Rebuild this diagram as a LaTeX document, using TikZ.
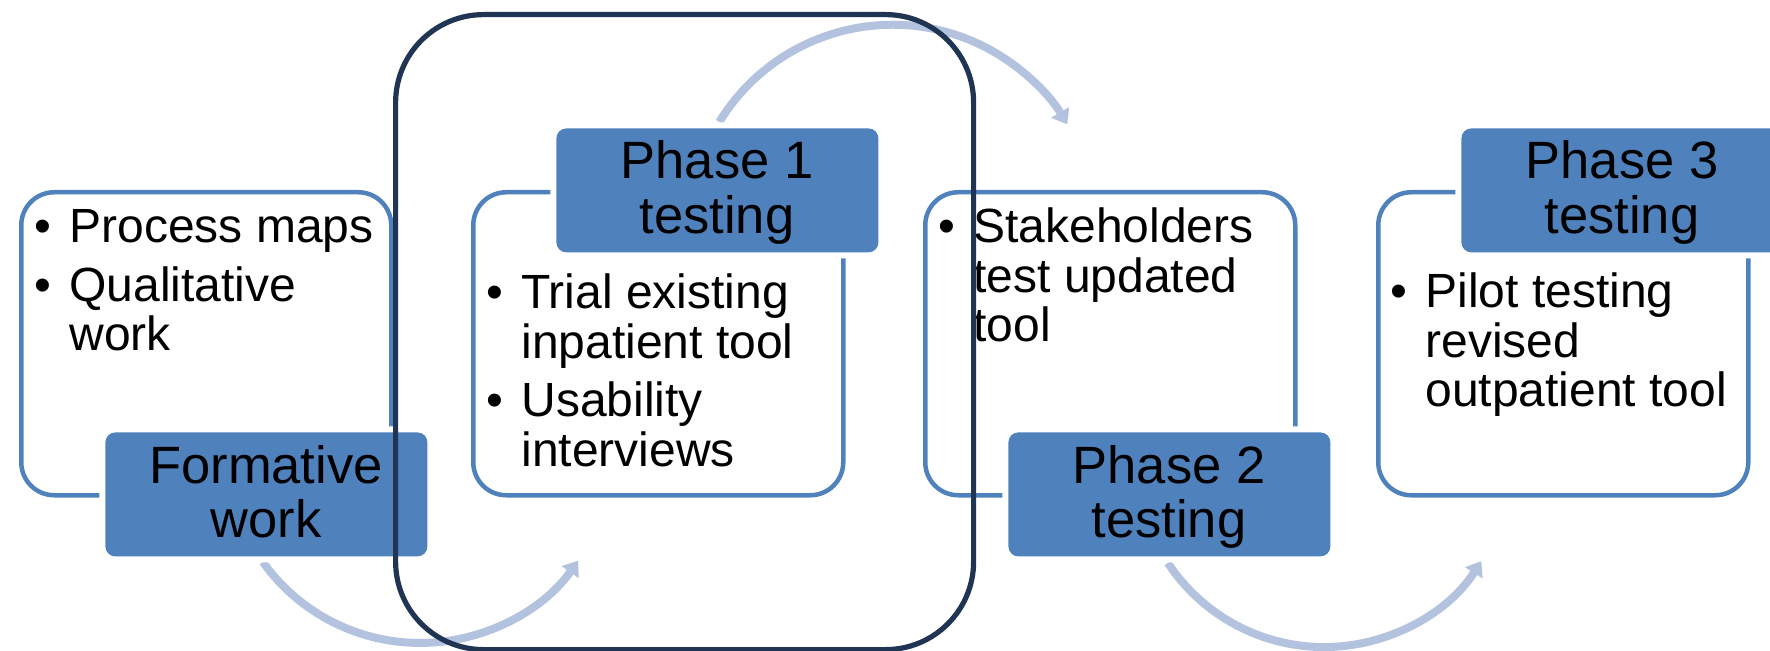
\documentclass[tikz,border=0pt]{standalone}
\usepackage{fontspec}
\setmainfont{Liberation Sans}
\usetikzlibrary{arrows.meta}
\definecolor{accent}{HTML}{4F81BD}
\definecolor{arrowc}{HTML}{B3C2DE}
\definecolor{framec}{HTML}{1F3553}
\newcommand\bodyfont{\fontsize{24}{24.5}\selectfont}
\newcommand\headfont{\fontsize{26.25}{27}\selectfont}
\begin{document}
\begin{tikzpicture}[x=0.5pt,y=-0.5pt,
  contentbox/.style={draw=accent, line width=2.25pt, fill=white, rounded corners=16.5pt,
    minimum width=185pt, minimum height=151.5pt, anchor=north west, inner sep=0pt},
  headbox/.style={fill=accent, preaction={draw=white, line width=6pt}, rounded corners=5pt,
    minimum width=161pt, minimum height=62pt, anchor=north west, inner sep=0pt},
  bodytext/.style={anchor=base west, inner sep=0pt, font=\bodyfont},
  headtext/.style={anchor=base, inner sep=0pt, font=\headfont},
  flow/.style={draw=arrowc, line width=4pt, -{Triangle[width=10pt,length=7pt]}},
  outline/.style={draw=framec, line width=2.6pt, rounded corners=44pt,
    minimum width=289pt, minimum height=317.5pt, anchor=north west, inner sep=0pt}]
\clip (0,0) rectangle (1770,651);
% curved arrows (behind)
\coordinate (a1s) at (262.9,562);
\coordinate (a2s) at (719.3,122);
\coordinate (a3s) at (1167.9,563);
\draw[flow] (a1s) arc[start angle=144.5, end angle=35, radius=193];
\draw[flow] (a2s) arc[start angle=211.4, end angle=329.4, radius=203];
\draw[flow] (a3s) arc[start angle=146.6, end angle=32.7, radius=187];
% content boxes
\node[contentbox] (b1) at (19,190) {};
\node[contentbox] (b2) at (471,190) {};
\node[contentbox] (b3) at (923,190) {};
\node[contentbox] (b4) at (1376,190) {};
% header boxes
\node[headbox] (h1) at (105,432) {};
\node[headbox] (h2) at (556,128) {};
\node[headbox] (h3) at (1008,432) {};
\node[headbox] (h4) at (1461,128) {};
% header texts
\node[headtext] (h1t) at (266,483) {\begin{tabular}[t]{@{}c@{}}Formative\\work\end{tabular}};
\node[headtext] (h2t) at (717,179) {\begin{tabular}[t]{@{}c@{}}Phase 1\\testing\end{tabular}};
\node[headtext] (h3t) at (1169,483) {\begin{tabular}[t]{@{}c@{}}Phase 2\\testing\end{tabular}};
\node[headtext] (h4t) at (1622,179) {\begin{tabular}[t]{@{}c@{}}Phase 3\\testing\end{tabular}};
% body texts
\node[bodytext] (t1) at (34,243) {\begin{tabular}[t]{@{}p{17.5pt}@{}l@{}}•&Process maps\\[4.5pt]•&Qualitative\\&work\end{tabular}};
\node[bodytext] (t2) at (486,309) {\begin{tabular}[t]{@{}p{17.5pt}@{}l@{}}•&Trial existing\\&inpatient tool\\[4.5pt]•&Usability\\&interviews\end{tabular}};
\node[bodytext] (t3) at (938,243) {\begin{tabular}[t]{@{}p{17.5pt}@{}l@{}}•&Stakeholders\\&test updated\\&tool\end{tabular}};
\node[bodytext] (t4) at (1390,308) {\begin{tabular}[t]{@{}p{17.5pt}@{}l@{}}•&Pilot testing\\&revised\\&outpatient tool\end{tabular}};
% dark highlight frame (on top)
\node[outline] (frame) at (393,12) {};
\end{tikzpicture}
\end{document}
